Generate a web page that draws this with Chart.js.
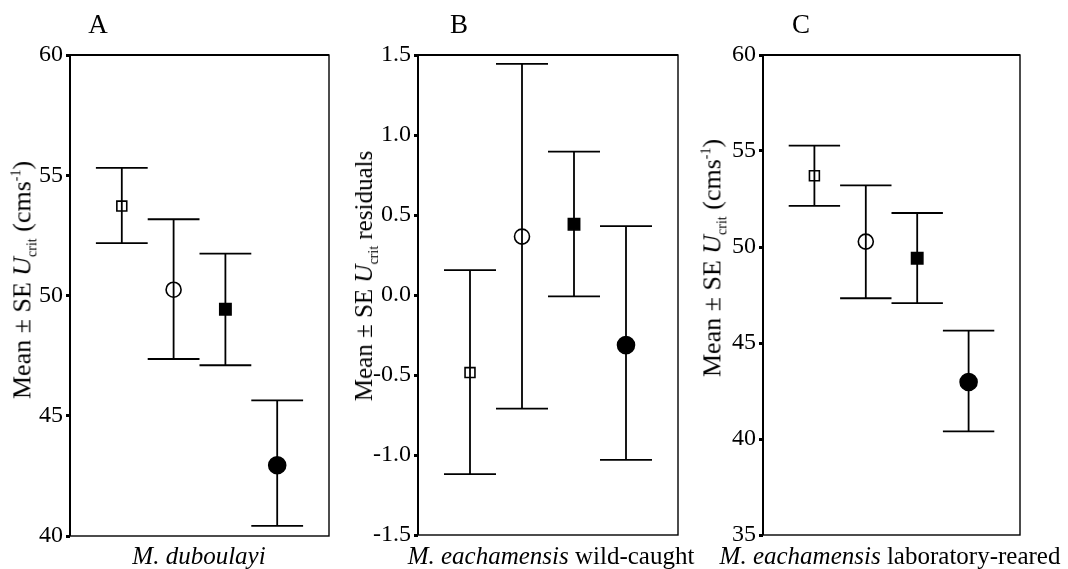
<!DOCTYPE html>
<html>
<head>
<meta charset="utf-8">
<script src="https://cdn.jsdelivr.net/npm/chart.js@4"></script>
<style>
  body { margin: 0; background: #fff; font-family: "Liberation Serif", serif; color: #000; }
  #wrap { position: relative; width: 1068px; height: 569px; overflow: hidden; }
  .panel { position: absolute; top: 0; height: 569px; }
  .letter { position: absolute; top: 9px; font-size: 27px; transform: translateX(-50%); }
  .ytitle { position: absolute; font-size: 26px; white-space: nowrap; transform: translate(-50%, -50%) rotate(-90deg); }
  .ytitle sub, .ytitle sup { font-size: 14px; }
  .xtitle { position: absolute; top: 542px; font-size: 25px; white-space: nowrap; transform: translateX(-50%); }
</style>
</head>
<body>
<div id="wrap">
  <div class="panel" style="left:0;width:340px"><canvas id="chartA"></canvas></div>
  <div class="panel" style="left:340px;width:350px"><canvas id="chartB"></canvas></div>
  <div class="panel" style="left:690px;width:378px"><canvas id="chartC"></canvas></div>

  <div class="letter" style="left:98px">A</div>
  <div class="letter" style="left:459px">B</div>
  <div class="letter" style="left:801px">C</div>

  <div class="ytitle" style="left:24px;top:280px">Mean ± SE <i>U</i><sub>crit</sub> (cms<sup>-1</sup>)</div>
  <div class="ytitle" style="left:366px;top:276px;font-size:25px">Mean ± SE <i>U</i><sub>crit</sub> residuals</div>
  <div class="ytitle" style="left:714px;top:258px">Mean ± SE <i>U</i><sub>crit</sub> (cms<sup>-1</sup>)</div>

  <div class="xtitle" style="left:199px"><i>M. duboulayi</i></div>
  <div class="xtitle" style="left:551px"><i>M. eachamensis</i> wild-caught</div>
  <div class="xtitle" style="left:890px"><i>M. eachamensis</i> laboratory-reared</div>
</div>

<script>
// group positions along the (hidden) x axis
const slots = [1, 2, 3, 4];

// A: M. duboulayi, Ucrit (cm/s)
const meanA = [53.72, 50.24, 49.43, 42.94];
const upperA = [55.31, 53.17, 51.74, 45.64];
const lowerA = [52.18, 47.36, 47.10, 40.42];

// B: M. eachamensis wild-caught, Ucrit residuals
const meanB = [-0.485, 0.365, 0.442, -0.313];
const upperB = [0.155, 1.444, 0.896, 0.431];
const lowerB = [-1.12, -0.71, -0.008, -1.03];

// C: M. eachamensis laboratory-reared, Ucrit (cm/s)
const meanC = [53.71, 50.28, 49.41, 42.97];
const upperC = [55.28, 53.21, 51.77, 45.64];
const lowerC = [52.14, 47.33, 47.08, 40.40];

// marker per group: open square, open circle, filled square, filled circle
const markerStyle = ["rect", "circle", "rect", "circle"];
const markerSize = [7, 7.5, 8, 8.5];
const markerFill = ["rgba(0,0,0,0)", "rgba(0,0,0,0)", "#000", "#000"];

Chart.defaults.font.family = "'Liberation Serif', serif";
Chart.defaults.color = "#000";

function errorBars(upper, lower) {
  return {
    id: "errorBars",
    beforeDatasetsDraw(chart) {
      const { ctx, chartArea: a, scales: { x, y } } = chart;
      ctx.save();
      ctx.strokeStyle = "#000";
      ctx.lineWidth = 1.8;
      slots.forEach((s, i) => {
        const px = x.getPixelForValue(s);
        const l = x.getPixelForValue(s - 0.5);
        const r = x.getPixelForValue(s + 0.5);
        const top = y.getPixelForValue(upper[i]);
        const bot = y.getPixelForValue(lower[i]);
        ctx.beginPath();
        ctx.moveTo(px, top); ctx.lineTo(px, bot);
        ctx.moveTo(l, top); ctx.lineTo(r, top);
        ctx.moveTo(l, bot); ctx.lineTo(r, bot);
        ctx.stroke();
      });
      // frame round the plot
      ctx.lineWidth = 1.4;
      ctx.strokeRect(a.left, a.top, a.right - a.left, a.bottom - a.top);
      ctx.lineWidth = 2;
      ctx.beginPath();
      ctx.moveTo(a.left, a.bottom); ctx.lineTo(a.left, a.top); ctx.lineTo(a.right, a.top);
      ctx.stroke();
      ctx.restore();
    },
  };
}

function makePanel(id, means, upper, lower, yMin, yMax, step, decimals, pad) {
  return new Chart(document.getElementById(id), {
    type: "scatter",
    data: {
      datasets: [{
        data: slots.map((s, i) => ({ x: s, y: means[i] })),
        pointStyle: markerStyle,
        pointRadius: markerSize,
        pointHoverRadius: markerSize,
        backgroundColor: markerFill,
        borderColor: "#000",
        borderWidth: 1.6,
        clip: false,
      }],
    },
    options: {
      maintainAspectRatio: false,
      responsive: true,
      animation: false,
      events: [],
      layout: { padding: pad },
      scales: {
        x: { type: "linear", min: 0, max: 5, display: false },
        y: {
          min: yMin,
          max: yMax,
          afterFit(scale) { scale.width = 48; },
          border: { display: false },
          grid: { drawOnChartArea: false, drawTicks: true, tickLength: 4, tickWidth: 3, color: "#000" },
          ticks: {
            stepSize: step,
            padding: 3,
            font: { size: 24 },
            color: "#000",
            callback: (v) => v.toFixed(decimals),
          },
        },
      },
      plugins: { legend: { display: false }, tooltip: { enabled: false } },
    },
    plugins: [errorBars(upper, lower)],
  });
}

makePanel("chartA", meanA, upperA, lowerA, 40, 60, 5, 0, { left: 22, right: 11, top: 55, bottom: 33 });
makePanel("chartB", meanB, upperB, lowerB, -1.5, 1.5, 0.5, 1, { left: 30, right: 12, top: 55, bottom: 34 });
makePanel("chartC", meanC, upperC, lowerC, 35, 60, 5, 0, { left: 25, right: 48, top: 55, bottom: 34 });
</script>
</body>
</html>
